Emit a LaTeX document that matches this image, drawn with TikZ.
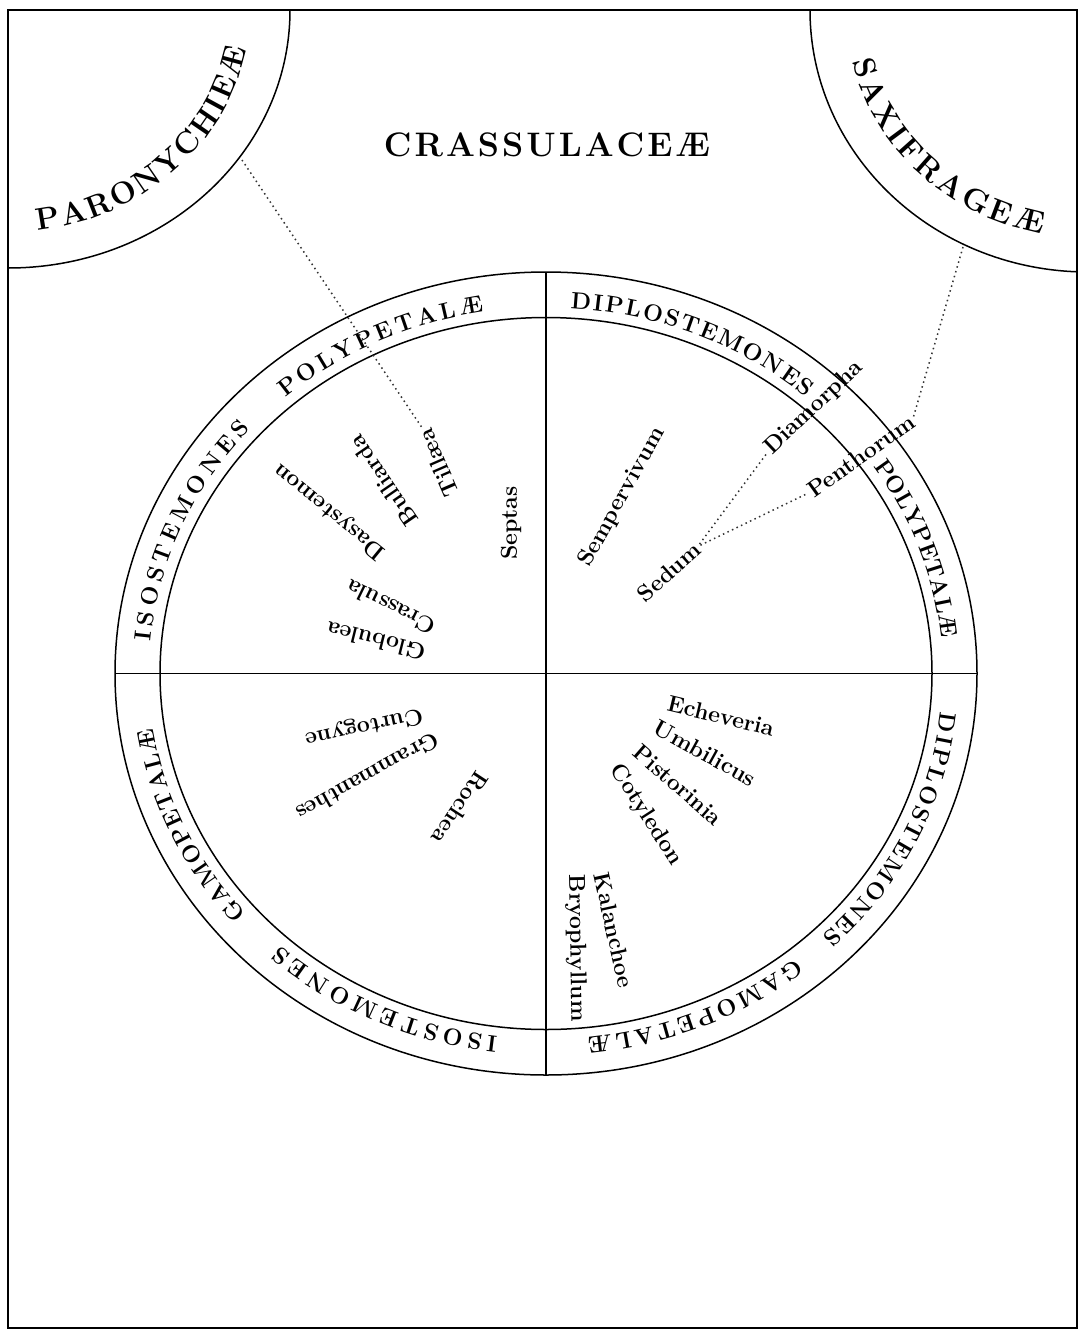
\documentclass[tikz,border=0pt]{standalone}
\usetikzlibrary{decorations.text,calc}
\tikzset{
  frameline/.style={line width=1.5pt},
  ringline/.style={line width=1.5pt},
  conn/.style={line width=1.5pt, dash pattern=on 1.5pt off 3.5pt, black!80},
  genus/.style={font=\fontsize{23}{23}\bfseries\selectfont, inner sep=0pt},
  title/.style={font=\fontsize{34}{34}\bfseries\selectfont, inner sep=0pt},
}
\newcommand\ringlabel[3]{%
  \path[decorate, decoration={text along path,
      text={|\fontsize{23.5}{23.5}\bfseries\selectfont|#3},
      text align={fit to path}}]
    ($(C)+(#1:397 and 366)$) arc[start angle=#1, end angle=#2, x radius=397, y radius=366];
}
\begin{document}
\begin{tikzpicture}[x=1pt,y=1pt]
\useasboundingbox (0,0) rectangle (1078,-1331);
\fill[white] (0,0) rectangle (1078,-1331);
\begin{scope}
\clip (0,0) rectangle (1078,-1331);
% frame
\draw[frameline] (8,-10) rectangle (1077,-1328);
% corner circles
\draw[ringline] (290,-10) arc[start angle=0, end angle=-90, x radius=282, y radius=258];
\draw[ringline] (810,-10) arc[start angle=180, end angle=268, x radius=278, y radius=262];
\end{scope}
\path[decorate, decoration={text along path,
    text={|\fontsize{31}{31}\bfseries\selectfont|PARONYCHIEÆ}, text align={fit to path}}]
  ($(8,-10)+(-83:242 and 222)$) arc[start angle=-83, end angle=-10, x radius=242, y radius=222];
\path[decorate, decoration={text along path,
    text={|\fontsize{31}{31}\bfseries\selectfont|SAXIFRAGEÆ}, text align={fit to path}}]
  ($(1088,-10)+(193:242 and 228)$) arc[start angle=193, end angle=259, x radius=242, y radius=228];
% title
\node[title] (crass) at (547,-145) {C\kern3pt R\kern3pt A\kern3pt S\kern3pt S\kern3pt U\kern3pt L\kern3pt A\kern3pt C\kern3pt E\kern3pt Æ};
% main disc
\coordinate (C) at (546,-673.5);
\draw[ringline] (C) ellipse[x radius=431, y radius=401.5];
\draw[ringline] (C) ellipse[x radius=386, y radius=356];
\draw[ringline] (546,-272) -- (546,-1075);
\draw[ringline] (115,-673.5) -- (977,-673.5);
% ring labels
\ringlabel{175}{138}{ISOSTEMONES}
\ringlabel{131}{99}{POLYPETALÆ}
\ringlabel{86.5}{49}{DIPLOSTEMONES}
\ringlabel{34.5}{5.5}{POLYPETALÆ}
\ringlabel{-6}{-46}{DIPLOSTEMONES}
\ringlabel{-51}{-84}{GAMOPETALÆ}
\ringlabel{-97}{-132}{ISOSTEMONES}
\ringlabel{-139}{-171.5}{GAMOPETALÆ}
% genera: upper left
\node[genus, rotate=90] (septas) at (511,-523) {Septas};
\node[genus, rotate=113.5] (till) at (438,-463) {Tillæa};
\node[genus, rotate=124.5] (bull) at (383,-481) {Bulliarda};
\node[genus, rotate=140.7] (dasy) at (330,-511) {Dasystemon};
\node[genus, rotate=154] (crassula) at (391,-607) {Crassula};
\node[genus, rotate=166] (glob) at (376,-641) {Globulea};
% upper right
\node[genus, rotate=61] (semp) at (622,-497) {Sempervivum};
\node[genus, rotate=41.6] (sedum) at (669,-572) {Sedum};
\node[genus, rotate=43.5] (diam) at (814,-408) {Diamorpha};
\node[genus, rotate=35.3] (penth) at (861,-456) {Penthorum};
% lower left
\node[genus, rotate=192.5] (curt) at (364,-727) {Curtogyne};
\node[genus, rotate=209] (gram) at (368,-777) {Grammanthes};
\node[genus, rotate=236.7] (roch) at (460,-808) {Rochea};
% lower right
\node[genus, rotate=-13.5] (eche) at (721,-716) {Echeveria};
\node[genus, rotate=-28.9] (umb) at (705,-753) {Umbilicus};
\node[genus, rotate=-41.2] (pist) at (678,-785) {Pistorinia};
\node[genus, rotate=-57.2] (coty) at (646,-815) {Cotyledon};
\node[genus, rotate=-77.6] (kal) at (614,-930) {Kalanchoe};
\node[genus, rotate=-89] (bryo) at (576,-948) {Bryophyllum};
% connectors
\coordinate (parA) at (242,-160);
\coordinate (saxA) at (963,-247);
\draw[conn, shorten >=3pt] (parA) -- (till.east);
\draw[conn, shorten >=3pt] (saxA) -- (penth.east);
\draw[conn, shorten <=3pt, shorten >=3pt] (sedum.east) -- (diam.west);
\draw[conn, shorten <=3pt, shorten >=3pt] (sedum.east) -- (penth.west);
\end{tikzpicture}
\end{document}
